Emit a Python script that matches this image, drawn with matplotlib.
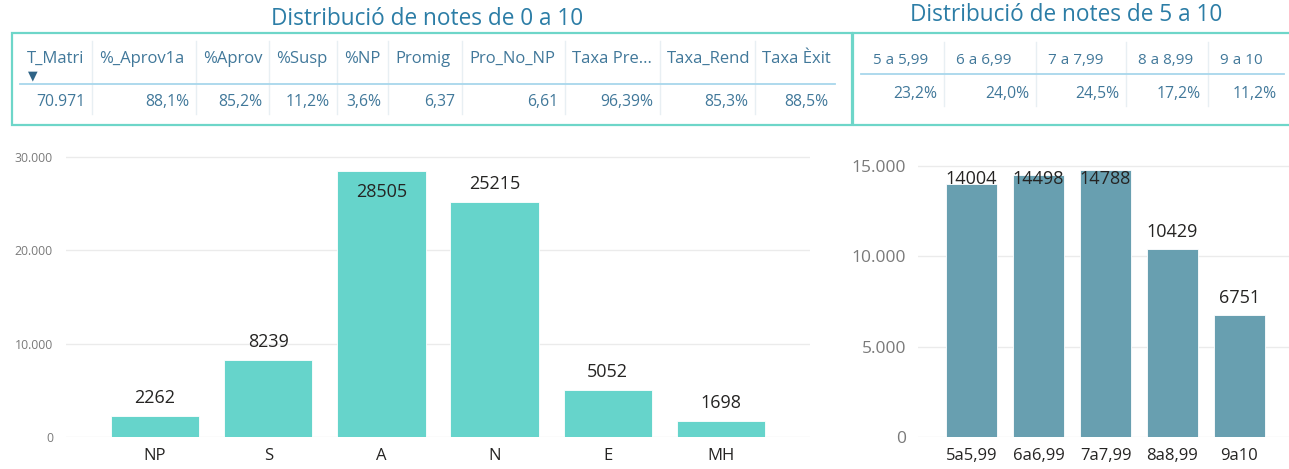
import matplotlib
matplotlib.use("Agg")
import matplotlib.pyplot as plt
from matplotlib.lines import Line2D
from matplotlib.patches import Rectangle

plt.rcParams["font.family"] = ["Open Sans", "DejaVu Sans"]

W, H = 1289, 469

# --- data ---
grade_cats = ["NP", "S", "A", "N", "E", "MH"]
grade_counts = [2262, 8239, 28505, 25215, 5052, 1698]

pass_cats = ["5a5,99", "6a6,99", "7a7,99", "8a8,99", "9a10"]
pass_counts = [14004, 14498, 14788, 10429, 6751]

kpi_headers = ["T_Matri", "%_Aprov1a", "%Aprov", "%Susp", "%NP", "Promig",
               "Pro_No_NP", "Taxa Pre...", "Taxa_Rend", "Taxa Èxit"]
kpi_values = ["70.971", "88,1%", "85,2%", "11,2%", "3,6%", "6,37",
              "6,61", "96,39%", "85,3%", "88,5%"]

band_headers = ["5 a 5,99", "6 a 6,99", "7 a 7,99", "8 a 8,99", "9 a 10"]
band_values = ["23,2%", "24,0%", "24,5%", "17,2%", "11,2%"]

TITLE_C = "#2C7DA6"
TEXT_C = "#41789A"
BORDER_C = "#6ED6C9"
LEFT_BAR = "#66D4CB"
RIGHT_BAR = "#689FB0"
LABEL_C = "#252423"
TICK_C = "#7A7A7A"
GRID_C = "#EBEBEB"


def fx(x):
    return x / W


def fy(y):
    return 1 - y / H


def hline(fig, x0, x1, y, color, lw=1.0):
    fig.add_artist(Line2D([fx(x0), fx(x1)], [fy(y), fy(y)], color=color, lw=lw,
                          transform=fig.transFigure))


def vline(fig, x, y0, y1, color, lw=1.0):
    fig.add_artist(Line2D([fx(x), fx(x)], [fy(y0), fy(y1)], color=color, lw=lw,
                          transform=fig.transFigure))


def box(fig, x0, y0, x1, y1):
    fig.add_artist(Rectangle((fx(x0), fy(y1)), fx(x1) - fx(x0), fy(y0) - fy(y1),
                             fill=False, edgecolor=BORDER_C, lw=1.6,
                             transform=fig.transFigure))


def table(fig, headers, values, seps, x_start, x_end, y_head, y_line, y_val,
          head_size, val_size, head_pad, first_pad):
    edges = [x_start] + seps + [x_end]
    for i, (h, v) in enumerate(zip(headers, values)):
        pad = first_pad if i == 0 else head_pad
        fig.text(fx(edges[i] + pad), fy(y_head), h, fontsize=head_size,
                 color=TEXT_C, ha="left", va="center")
        fig.text(fx(edges[i + 1] - 7), fy(y_val), v, fontsize=val_size,
                 color=TEXT_C, ha="right", va="center")
    for s in seps:
        vline(fig, s, y_head - 18, y_val + 12, "#E8EFF3")
    hline(fig, x_start, x_end, y_line, "#A8D7EC", lw=1.3)


fig = plt.figure(figsize=(W / 100, H / 100), dpi=100)

# titles
fig.text(fx(427), fy(19), "Distribució de notes de 0 a 10", fontsize=16.3,
         color=TITLE_C, ha="center", va="center")
fig.text(fx(1066), fy(15), "Distribució de notes de 5 a 10", fontsize=16.3,
         color=TITLE_C, ha="center", va="center")

# tables
box(fig, 12, 33, 852, 125)
box(fig, 853, 33, 1295, 125)
table(fig, kpi_headers, kpi_values, [92, 196, 269, 337, 388, 462, 565, 660, 755],
      20, 835, 59, 84, 102, 12, 11.3, 7, 7)
fig.text(fx(33), fy(76), "▼", fontsize=9, color="#2F6487", ha="center",
         va="center", family="DejaVu Sans")
table(fig, band_headers, band_values, [944, 1036, 1126, 1208],
      861, 1284, 60, 74, 94, 11, 11.3, 12, 12)

# left chart
y0_px = 437
axL = fig.add_axes([fx(66), fy(y0_px), fx(810) - fx(66), (y0_px - 150) / H])
xl = list(range(len(grade_cats)))
axL.bar(xl, grade_counts, width=0.78, color=LEFT_BAR, edgecolor="white", lw=0.6,
        zorder=3)
ymaxL = 30000 * 287 / 280
axL.set_ylim(0, ymaxL)
axL.set_xlim(-0.786, 5.786)
pxL = 280 / 30000
for x, v in zip(xl, grade_counts):
    top = v * pxL + 18
    if top + 10 > 287:
        # no room above the bar: label goes inside, at the top
        axL.text(x, v - 21 / pxL, str(v), ha="center", va="center", fontsize=13,
                 color=LABEL_C, zorder=4)
    else:
        axL.text(x, v + 18 / pxL, str(v), ha="center", va="center", fontsize=13,
                 color=LABEL_C, zorder=4)
axL.set_yticks([0, 10000, 20000, 30000])
axL.set_yticklabels(["0", "10.000", "20.000", "30.000"])
axL.set_xticks(xl)
axL.set_xticklabels(grade_cats)

# right chart
axR = fig.add_axes([fx(918), fy(y0_px), fx(1289) - fx(918), (y0_px - 155) / H])
xr = list(range(len(pass_cats)))
axR.bar(xr, pass_counts, width=0.77, color=RIGHT_BAR, edgecolor="white", lw=0.6,
        zorder=3)
pxR = 271 / 15000
axR.set_ylim(0, 282 / pxR)
axR.set_xlim(-0.8, 4.74)
cap = 258 / pxR
for x, v in zip(xr, pass_counts):
    axR.text(x, min(v + 17 / pxR, cap), str(v), ha="center", va="center",
             fontsize=13, color=LABEL_C, zorder=4)
axR.set_yticks([0, 5000, 10000, 15000])
axR.set_yticklabels(["0", "5.000", "10.000", "15.000"])
axR.set_xticks(xr)
axR.set_xticklabels(pass_cats)

for ax, ysize, ypad in ((axL, 8.8, 9.4), (axR, 12.5, 8.6)):
    for s in ax.spines.values():
        s.set_visible(False)
    ax.grid(axis="y", color=GRID_C, lw=1.0, zorder=0)
    ax.set_axisbelow(True)
    ax.tick_params(axis="y", length=0, pad=ypad, labelsize=ysize, labelcolor=TICK_C)
    ax.tick_params(axis="x", length=0, pad=8, labelsize=12, labelcolor=LABEL_C)

fig.savefig("out.png", dpi=100, facecolor="white")
